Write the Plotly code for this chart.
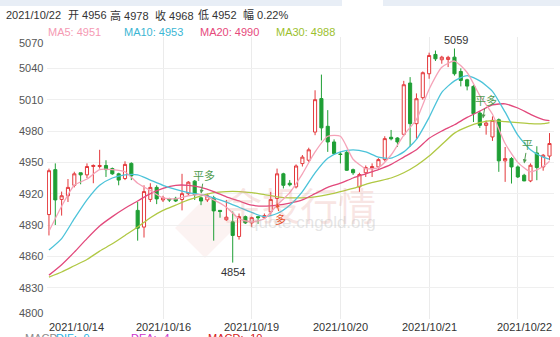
import plotly.graph_objects as go

# ---------------- data ----------------
idx = list(range(80))
opens = [4900, 4943, 4914.5, 4918, 4928, 4940, 4938, 4946, 4946, 4947,
         4944, 4939, 4934.5, 4949, 4904, 4888, 4914.5, 4926, 4914, 4915,
         4915.5, 4914.4, 4920, 4932, 4916, 4914, 4916, 4904, 4895, 4893,
         4879, 4898, 4892, 4898, 4897, 4902.6, 4915.4, 4939, 4930, 4926.5,
         4948.8, 4952, 4979, 5011, 4984.5, 4969.5, 4958, 4959.5, 4943, 4926.5,
         4940, 4944, 4945.6, 4952.6, 4974, 4973.3, 4976.8, 5025.9, 4987, 5011.9,
         5034.8, 5053.3, 5048.2, 5048.5, 5050.7, 5037, 5029, 5022.7, 4997.2, 4985.4,
         4974.3, 4990.8, 4951.4, 4953.6, 4945.6, 4937.6, 4932.2, 4959, 4945.6, 4956]
highs = [4944, 4949, 4922, 4934, 4941, 4940, 4949, 4948, 4962, 4952,
         4945, 4940, 4951, 4950, 4912, 4928, 4930, 4928, 4918, 4916,
         4917, 4939, 4932, 4933, 4917, 4920, 4918, 4904, 4914, 4903,
         4901, 4899, 4898, 4898, 4901, 4921.7, 4944, 4940, 4933, 4948,
         4957, 4964, 5019, 5034, 5000, 4972, 4960, 4961, 4944, 4940,
         4947, 4949, 4954, 4975, 4981, 4974, 5028, 5031.6, 5016, 5037,
         5055, 5057, 5052, 5052, 5059, 5040, 5030, 5024, 4999, 4990,
         4994, 4992, 4964.7, 4955, 4947, 4939, 4949, 4965.4, 4958, 4978]
lows = [4880, 4890, 4899, 4912, 4926, 4929, 4935, 4930, 4944, 4936,
        4938, 4928, 4933, 4933, 4875, 4878, 4912, 4910, 4912, 4912,
        4912, 4904, 4918, 4914, 4909, 4912, 4875, 4897, 4894, 4854,
        4876, 4891, 4888, 4891, 4896, 4900, 4906, 4925, 4927, 4925,
        4946, 4950, 4976, 4971, 4960, 4957, 4949, 4941.8, 4938, 4921.7,
        4936, 4936, 4944, 4951, 4971, 4964.7, 4975, 4965, 4972.7, 5010,
        5030, 5047, 5044.4, 5041.2, 5033, 5022.7, 5018.9, 4988.6, 4983, 4976.5,
        4970.5, 4940.9, 4931.3, 4929.7, 4935, 4932, 4931, 4932.9, 4942, 4952]
closes = [4942, 4914, 4918, 4926, 4939, 4938, 4946, 4947, 4947, 4943,
          4939, 4933, 4948, 4937, 4887, 4922, 4926, 4915, 4916, 4914,
          4913, 4920, 4931, 4919, 4913, 4918, 4903.5, 4903, 4897.5, 4880,
          4898, 4892, 4897, 4897, 4899, 4914.4, 4939, 4928, 4928.5, 4946.5,
          4955, 4962, 5010, 4983, 4969.5, 4958.4, 4957.5, 4942.4, 4940, 4938.3,
          4945, 4946, 4952.6, 4972.7, 4972.5, 4969.5, 5024.3, 4987, 5010.9, 5035.8,
          5052.3, 5049.1, 5050.7, 5050.5, 5034.8, 5028.4, 5023, 4996.6, 4985.4, 4987.6,
          4990.2, 4951.4, 4953.6, 4945.6, 4936, 4932.2, 4947.2, 4945, 4956.8, 4968]

ma_x = list(range(0, 80, 2)) + [79]
ma5 = [4884, 4908, 4928, 4934, 4943, 4943, 4941, 4930, 4923, 4916,
       4915, 4918, 4919, 4914, 4907, 4896, 4893, 4896, 4909, 4921,
       4939, 4960, 4975, 4975, 4953, 4944, 4945, 4957, 4976, 4991,
       5020, 5041, 5047, 5036, 5014, 4996, 4968, 4950, 4941, 4946, 4951]
ma10 = [4866, 4877, 4896, 4914, 4928, 4935, 4938, 4938, 4933, 4928,
        4924, 4921, 4919, 4916, 4912, 4907, 4902, 4898, 4901, 4909,
        4922, 4940, 4954, 4960, 4962, 4960, 4955, 4954, 4960, 4972,
        4993, 5017, 5028, 5033, 5028, 5018, 4998, 4976, 4962, 4955, 4953]
ma20 = [4842, 4852, 4864, 4877, 4889, 4898, 4906, 4913, 4920, 4925,
        4928, 4928, 4926, 4922, 4917, 4913, 4909, 4908, 4909, 4911,
        4914, 4920, 4926, 4930, 4935, 4939, 4943, 4948, 4955, 4962,
        4973, 4980, 4986, 4993, 4999, 5005, 5006, 5002, 4996, 4991, 4990]
ma30 = [4840, 4845, 4851, 4857, 4865, 4872, 4880, 4888, 4897, 4904,
        4909, 4914, 4918, 4921, 4922, 4922, 4921, 4919, 4917, 4916,
        4916, 4917, 4919, 4922, 4925, 4929, 4932, 4935, 4940, 4947,
        4956, 4967, 4978, 4984, 4988, 4990, 4989, 4988, 4987, 4987, 4988]
ma_names = ["MA5", "MA10", "MA20", "MA30"]
ma_last = [4951, 4953, 4990, 4988]

date_labels = ["2021/10/14", "2021/10/16", "2021/10/19", "2021/10/20", "2021/10/21", "2021/10/22"]
date_idx = [0, 18, 32, 46, 60, 74]
y_ticks = [4800, 4830, 4860, 4890, 4920, 4950, 4980, 5010, 5040, 5070]

sig_idx = [24, 36, 68.5, 75]
sig_y = [4920, 4911, 4992, 4949]
sig_text = ["平多", "多", "平多", "平"]
sig_dir = ["down", "up", "down", "down"]

header_date = "2021/10/22"
header_change = "0.22%"
macd_items = [("MACD", "#8a8a8a"), ("DIF: -9", "#27b2e3"), ("DEA: -4", "#cc33cc"), ("MACD: -10", "#d62020")]

# ---------------- style ----------------
W, H = 560, 337
L, R, T, B = 47, 6, 37, 18
pw, ph = W - L - R, H - T - B
def fx(px): return (px - L) / pw
def fy(py): return (H - B - py) / ph

RED = "#e4393c"
GREEN = "#1f9f35"
MA_COLORS = ["#f5a3b8", "#4cc3d9", "#e2497c", "#b0c843"]
MA_TEXT_COLORS = ["#f59ab3", "#3cb6d4", "#e6497c", "#9cbf2e"]
FONT = "Liberation Sans, Arial, Noto Sans CJK SC, sans-serif"

fig = go.Figure()
fig.add_trace(go.Candlestick(
    x=idx, open=opens, high=highs, low=lows, close=closes,
    increasing=dict(line=dict(color=RED, width=1), fillcolor="white"),
    decreasing=dict(line=dict(color=GREEN, width=1), fillcolor=GREEN),
    whiskerwidth=0, showlegend=False, hoverinfo="skip"))

for ys, col in zip([ma30, ma20, ma10, ma5], [MA_COLORS[3], MA_COLORS[2], MA_COLORS[1], MA_COLORS[0]]):
    fig.add_trace(go.Scatter(x=ma_x, y=ys, mode="lines",
                             line=dict(color=col, width=1.3, shape="spline", smoothing=0.6),
                             showlegend=False, hoverinfo="skip"))

ann = []
# watermark (first, so other texts sit above it)
ann.append(dict(xref="paper", yref="paper", x=fx(300), y=fy(203), text="金投行情", showarrow=False,
                font=dict(size=38, color="rgba(225,140,130,0.22)", family="Noto Sans CJK SC")))
ann.append(dict(xref="paper", yref="paper", x=fx(312), y=fy(234), text="quote.cngold.org", showarrow=False,
                font=dict(size=17, color="rgba(190,190,190,0.4)", family=FONT)))
# y-axis labels
for v in y_ticks:
    shift = -6 if v == y_ticks[-1] else (6 if v == y_ticks[0] else 0)
    ann.append(dict(xref="paper", yref="y", x=fx(45), y=v, text=str(v), showarrow=False,
                    xanchor="right", yanchor="middle", yshift=shift,
                    font=dict(size=11, color="#555", family=FONT)))
# date labels
for k, (lab, i) in enumerate(zip(date_labels, date_idx)):
    if k == 0:
        d = dict(xref="paper", x=0, xanchor="left")
    elif k == len(date_labels) - 1:
        d = dict(xref="paper", x=1, xanchor="right")
    else:
        d = dict(xref="x", x=i, xanchor="center")
    d.update(yref="paper", y=fy(327), yanchor="middle", text=lab, showarrow=False,
             font=dict(size=11, color="#333", family=FONT))
    ann.append(d)
# header
head_items = [header_date, f"开 {opens[-1]:g}", f"高 {highs[-1]:g}", f"收 {closes[-1]:g}",
              f"低 {lows[-1]:g}", f"幅 {header_change}"]
head_x = [4, 66, 108, 153, 196, 241]
for t, px in zip(head_items, head_x):
    ann.append(dict(xref="paper", yref="paper", x=fx(px), y=fy(15), text=t, showarrow=False,
                    xanchor="left", yanchor="middle", font=dict(size=11, color="#333", family=FONT)))
# MA legend
for name, val, col, px in zip(ma_names, ma_last, MA_TEXT_COLORS, [46, 122, 198, 274]):
    ann.append(dict(xref="paper", yref="paper", x=fx(px), y=fy(32), text=f"{name}: {val}",
                    showarrow=False, xanchor="left", yanchor="middle",
                    font=dict(size=11, color=col, family=FONT)))
# MACD row (partly cut off at bottom, as in the reference)
for (t, col), px in zip(macd_items, [23, 54, 129, 206]):
    ann.append(dict(xref="paper", yref="paper", x=fx(px), y=fy(330), text=t, showarrow=False,
                    xanchor="left", yanchor="top", font=dict(size=11, color=col, family=FONT)))
# extreme labels
imax = highs.index(max(highs)); imin = lows.index(min(lows))
ann.append(dict(x=imax, y=highs[imax], text=f"{max(highs):g}", showarrow=False, yanchor="bottom",
                xshift=2, yshift=0, font=dict(size=11, color="#333", family=FONT)))
ann.append(dict(x=imin, y=lows[imin], text=f"{min(lows):g}", showarrow=False, yanchor="top",
                yshift=-1, font=dict(size=11, color="#333", family=FONT)))
# trade signals
for i, yv, t, d in zip(sig_idx, sig_y, sig_text, sig_dir):
    col = "#e8522b" if d == "up" else "#4f9b4f"
    ann.append(dict(x=i, y=yv, text=t, showarrow=True, arrowhead=2, arrowsize=0.8, arrowwidth=1,
                    arrowcolor=col, ax=3, ay=(16 if d == "up" else -18),
                    font=dict(size=11, color=col, family=FONT)))

shapes = [
    dict(type="rect", xref="paper", yref="paper", x0=fx(0), x1=fx(342), y0=fy(6), y1=fy(0),
         fillcolor="#e8eef6", line=dict(width=0), layer="below"),
    dict(type="rect", xref="paper", yref="paper", x0=fx(383), x1=fx(560), y0=fy(6), y1=fy(0),
         fillcolor="#e8eef6", line=dict(width=0), layer="below"),
    dict(type="path", xref="paper", yref="paper",
         path=f"M {fx(205)} {fy(198)} L {fx(235)} {fy(228)} L {fx(205)} {fy(258)} L {fx(175)} {fy(228)} Z",
         fillcolor="rgba(235,165,155,0.13)", line=dict(width=0), layer="below"),
]

fig.update_layout(
    width=W, height=H, margin=dict(l=L, r=R, t=T, b=B),
    paper_bgcolor="white", plot_bgcolor="white",
    showlegend=False, annotations=ann, shapes=shapes,
    xaxis=dict(range=[-0.31, 79.71], rangeslider=dict(visible=False), tickmode="array",
               tickvals=date_idx[1:], showticklabels=False, showgrid=True, gridcolor="#ebebeb",
               gridwidth=1, zeroline=False, showline=False, fixedrange=True),
    yaxis=dict(range=[4800, 5070], tickmode="array", tickvals=y_ticks, showticklabels=False,
               showgrid=True, gridcolor="#efefef", gridwidth=1, zeroline=False, showline=False,
               fixedrange=True),
    font=dict(family=FONT),
)

fig.write_html("out.html", config={"displayModeBar": False})
